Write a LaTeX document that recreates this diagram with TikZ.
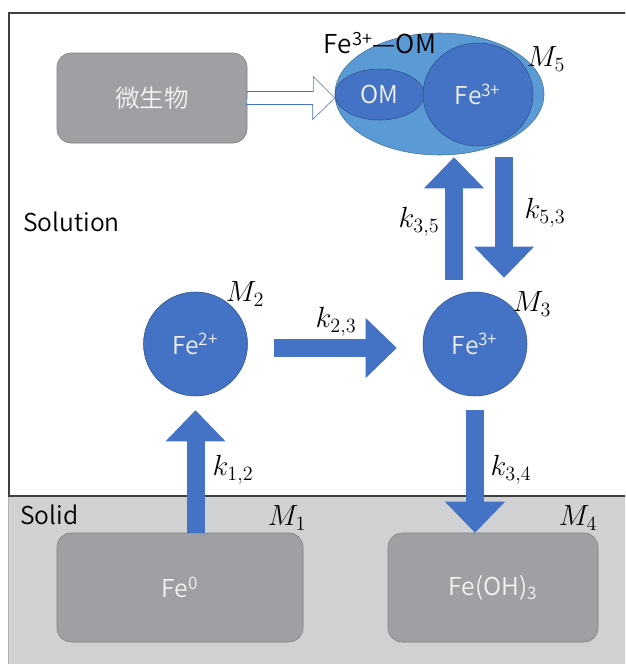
\documentclass[tikz,border=0pt]{standalone}
\usepackage{fontspec}
\setmainfont{Noto Sans CJK JP}[UprightFont = * DemiLight]
\usepackage{tikz}
\usetikzlibrary{calc}
\usetikzlibrary{arrows.meta}
\usetikzlibrary{shapes.geometric}

\definecolor{ionBlue}{HTML}{4472C4}
\definecolor{ionEdge}{HTML}{2F528F}
\definecolor{complexBlue}{HTML}{5B9BD5}
\definecolor{complexEdge}{HTML}{41719C}
\definecolor{solidGray}{HTML}{D0D1D3}
\definecolor{boxGray}{HTML}{9FA0A4}
\definecolor{boxEdge}{HTML}{7F7F7F}
\definecolor{frameGray}{HTML}{404040}

% one pixel of the drawing grid
\newdimen\pxu
\pxu=0.025cm

\tikzset{
	ion/.style = {circle, fill = ionBlue, draw = ionEdge, thin, minimum size = 104\pxu, inner sep = 0, text = white!95!black},
	phase/.style = {rounded corners = 14\pxu, fill = boxGray, draw = boxEdge, thin, inner sep = 0, text = white!95!black},
	flux/.style = {draw = ionBlue, line width = 18\pxu, -{Triangle[length = 0.775cm, width = 1.5cm, line width = 0pt 0 0]}},
	rate/.style = {font = \fontsize{19.5}{23}\selectfont},
}

\begin{document}
\begin{tikzpicture}[x = 0.025cm, y = -0.025cm, font = \fontsize{17.5}{21}\selectfont]

	\useasboundingbox (0,0) rectangle (625,664);
	\clip (0,0) rectangle (625,664);

	% solid phase below, solution frame above
	\fill [solidGray] (8,496) rectangle (640,680);
	\draw [gray!60] (8,496) -- (8,680);
	\draw [frameGray, line width = 0.9pt] (9,13) rectangle (640,496);
	\node (solution) [anchor = west, inner sep = 0] at (23,222) {Solution};
	\node (solid) [anchor = west, inner sep = 0] at (20,515) {Solid};

	% microbes and the Fe(III)-OM complex
	\node (microbe) [phase, minimum width = 190\pxu, minimum height = 90\pxu] at (152,98) {微生物};
	\node (m5) [ellipse, fill = complexBlue, draw = complexEdge, thin, minimum width = 209\pxu, minimum height = 122\pxu] at (439.5,94) {};
	\node (om) [ellipse, fill = ionBlue, draw = ionEdge, thin, minimum width = 89\pxu, minimum height = 51\pxu, inner sep = 0, text = white!95!black] at (379.5,94.5) {OM};
	\node (fe3om) [ion, ellipse, minimum width = 110\pxu, minimum height = 103\pxu] at (478,94.5) {Fe\textsuperscript{3+}};
	\node (complexName) [inner sep = 0, font = \fontsize{18.5}{22}\selectfont] at (380,43) {Fe\textsuperscript{3+}---OM};
	\node (m5Name) [rate] at (546,59) {$M_5$};

	% hollow arrow, microbes to OM
	\draw [draw = ionBlue, fill = white, thin] (microbe.east) ++(0,-6.5) -- ++(66,0) -- ++(0,-15) -- (microbe.east -| om.west) -- ++(-22,21.5) -- ++(0,-15) -- ++(-66,0) -- cycle;

	% ions in solution
	\node (fe2) [ion] at (195.5,344) {Fe\textsuperscript{2+}};
	\node (fe3) [ion] at (475,344) {Fe\textsuperscript{3+}};
	\node (m2Name) [rate] at (245,294) {$M_2$};
	\node (m3Name) [rate] at (532,304) {$M_3$};

	% solid phases
	\node (fe0) [phase, minimum width = 246\pxu, minimum height = 109\pxu] at (180,587.5) {Fe\textsuperscript{0}};
	\node (feoh) [phase, minimum width = 210\pxu, minimum height = 109\pxu] at (493,587.5) {Fe(OH)\textsubscript{3}};
	\node (m1Name) [rate] at (287,518) {$M_1$};
	\node (m4Name) [rate] at (578,518) {$M_4$};

	% fluxes between the pools
	\draw [flux, shorten > = 0.35cm] (fe0.north -| fe2.south) -- (fe2.south);
	\draw [flux, shorten < = 0.65cm, shorten > = 0.65cm] ([yshift = -0.1cm] fe2.east) -- ([yshift = -0.1cm] fe3.west);
	\draw [flux, shorten < = 0.35cm] (fe3.south) -- (fe3.south |- feoh.north);
	\draw [flux, shorten < = 0.3cm, shorten > = 0.05cm] ([xshift = -0.525cm] fe3.north) -- ([xshift = -0.525cm] fe3.north |- m5.south);
	\draw [flux, shorten < = 0.05cm, shorten > = 0.35cm] ([xshift = 0.725cm] fe3.north |- m5.south) -- ([xshift = 0.725cm] fe3.north);

	% rate constants
	\node (k12) [rate] at (233,470) {$k_{1,2}$};
	\node (k23) [rate] at (336,322) {$k_{2,3}$};
	\node (k34) [rate] at (511,470) {$k_{3,4}$};
	\node (k35) [rate] at (419,222) {$k_{3,5}$};
	\node (k53) [rate] at (545,213) {$k_{5,3}$};

\end{tikzpicture}
\end{document}
